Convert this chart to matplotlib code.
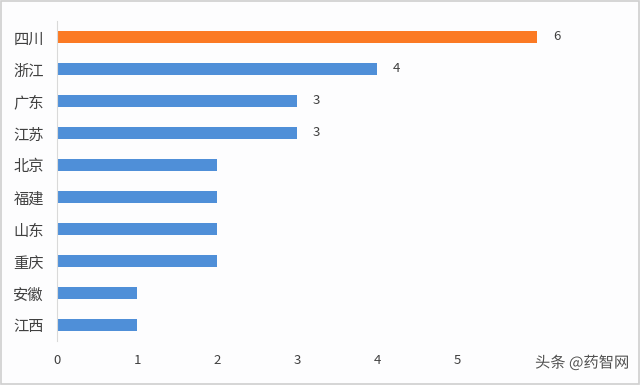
import matplotlib
matplotlib.use("Agg")
import matplotlib.pyplot as plt
import matplotlib.patheffects as pe

plt.rcParams['font.family'] = ['Noto Sans CJK SC', 'DejaVu Sans']

categories = ['四川', '浙江', '广东', '江苏', '北京', '福建', '山东', '重庆', '安徽', '江西']
values = [6, 4, 3, 3, 2, 2, 2, 2, 1, 1]
highlight = '四川'
x_ticks = [0, 1, 2, 3, 4, 5]

fig = plt.figure(figsize=(6.4, 3.85), dpi=100, facecolor='#fdfdfe')
ax = fig.add_axes([57/640, 1-341/385, 552/640, 320/385])
ax.set_facecolor('#fdfdfe')

colors = ['#fb7a24' if c == highlight else '#4f8fd8' for c in categories]
ypos = list(range(len(categories)))
ax.barh(ypos, values, height=0.37, color=colors)
ax.set_ylim(len(categories) - 0.5, -0.5)
ax.set_xlim(0, 6.9)
ax.set_yticks(ypos)
ax.set_yticklabels(categories, fontsize=11, color='#404040')
ax.set_xticks(x_ticks)
ax.set_xticklabels([str(t) for t in x_ticks], fontsize=9.5, color='#404040')
ax.tick_params(axis='y', length=0, pad=9.5)
ax.tick_params(axis='x', length=0, pad=9)
for s in ['top', 'right', 'bottom']:
    ax.spines[s].set_visible(False)
ax.spines['left'].set_color('#d9d9d9')

# value labels only for top bars
for i, v in enumerate(values):
    if v >= 3:
        ax.text(v + 0.2, i, str(v), va='center', ha='left', fontsize=9.5, color='#404040')

fig.text(0.983, 0.035, '头条 @药智网', ha='right', va='bottom', fontsize=11, color='#505050',
         path_effects=[pe.withStroke(linewidth=2, foreground='white')])

fig.patches.append(plt.Rectangle((0.002, 0.003), 0.996, 0.994, transform=fig.transFigure,
                                 fill=False, edgecolor='#cfcfcf', linewidth=1.2))

fig.savefig('out.png', dpi=100, facecolor=fig.get_facecolor())
